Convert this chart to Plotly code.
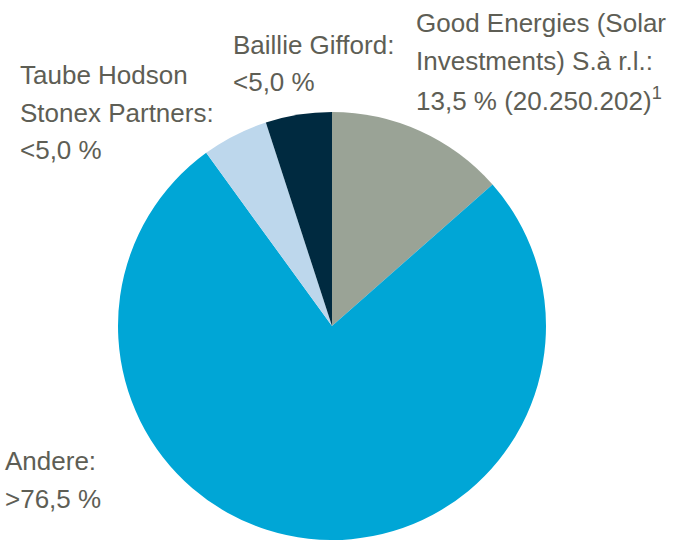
import plotly.graph_objects as go

labels = ["Good Energies (Solar Investments) S.à r.l.", "Andere", "Taube Hodson Stonex Partners", "Baillie Gifford"]
values = [13.5, 76.5, 5.0, 5.0]
colors = ["#9aa396", "#00a6d6", "#bdd7ec", "#002a40"]
label_lines = [
    ["Good Energies (Solar", "Investments) S.à r.l.:", "13,5 % (20.250.202)<sup>1</sup>"],
    ["Andere:", ">76,5 %"],
    ["Taube Hodson", "Stonex Partners:", "<5,0 %"],
    ["Baillie Gifford:", "<5,0 %"],
]
# label left edge and first baseline (pixels), line pitch
label_pos = [(416, 32), (5, 470), (20, 84), (233, 54)]
PITCH = 37.5
FS = 26

W, H = 673, 540
fig = go.Figure(go.Pie(
    labels=labels, values=values, sort=False, direction="clockwise", rotation=0,
    marker=dict(colors=colors, line=dict(width=0)), textinfo="none", hoverinfo="label+percent",
    domain=dict(x=[118 / W, 546 / W], y=[0, 428 / H]), showlegend=False,
))
for lines, (lx, by) in zip(label_lines, label_pos):
    for i, t in enumerate(lines):
        top = by + i * PITCH - FS
        fig.add_annotation(text=t, x=(lx - 2) / W, y=1 - top / H, xref="paper", yref="paper",
                           xanchor="left", yanchor="top", align="left", showarrow=False,
                           font=dict(family="Liberation Sans, Arial", size=FS, color="#5e5e55"))
fig.update_layout(width=W, height=H, margin=dict(l=0, r=0, t=0, b=0),
                  paper_bgcolor="white", plot_bgcolor="white")
fig.write_html("out.html", config={"displayModeBar": False},
               post_script="document.body.style.margin='0';document.body.style.overflow='hidden';")
